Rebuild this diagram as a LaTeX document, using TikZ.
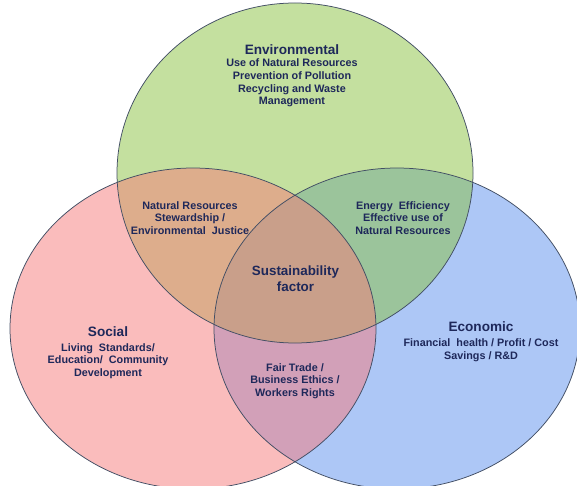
\documentclass[tikz,border=0pt]{standalone}
\usepackage{fontspec}
\setmainfont{Liberation Sans}
\definecolor{ink}{RGB}{30,40,90}
\definecolor{ringline}{RGB}{66,78,100}
\definecolor{envbase}{RGB}{139,195,65}
\definecolor{socbase}{RGB}{247,123,123}
\definecolor{ecobase}{RGB}{92,145,238}
\begin{document}
\begin{tikzpicture}[x=1pt,y=-1pt,
  disc/.style={fill opacity=0.5},
  ring/.style={draw=ringline, line width=0.75pt},
  head/.style={font=\fontsize{13.6}{15}\selectfont\bfseries, text=ink, inner sep=0pt},
  body/.style={font=\fontsize{10.8}{12.7}\selectfont\bfseries, text=ink, align=center, inner sep=0pt},
]
\useasboundingbox (0,0) rectangle (577,486);
\fill[white] (0,0) rectangle (577,486);
\begin{scope}
  \clip (0,0) rectangle (577,486);
  % circle fills, economic below, social on top
  \fill[ecobase, disc] (397,328.5) ellipse [x radius=183, y radius=160.5];
  \fill[envbase, disc] (295,173) ellipse [x radius=178, y radius=170];
  \fill[socbase, disc] (193,328.5) ellipse [x radius=183, y radius=160.5];
  % circle outlines
  \draw[ring] (397,328.5) ellipse [x radius=183, y radius=160.5];
  \draw[ring] (295,173) ellipse [x radius=178, y radius=170];
  \draw[ring] (193,328.5) ellipse [x radius=183, y radius=160.5];
\end{scope}

% Environmental
\node[head] (envtitle) at (292,50) {Environmental};
\node[body] (envbody) at (292,83) {Use of Natural Resources\\Prevention of Pollution\\Recycling and Waste\\Management};

% Social
\node[head] (soctitle) at (108,332) {Social};
\node[body] (socbody) at (108,361) {Living\ \ Standards/\\Education/\ \ Community\\Development};

% Economic
\node[head] (ecotitle) at (481,327) {Economic};
\node[body] (ecobody) at (481,350) {Financial\ \ health / Profit / Cost\\Savings / R\&D};

% Overlaps
\node[body] (envsoc) at (190,218) {Natural Resources\\Stewardship /\\Environmental\ \ Justice};
\node[body] (enveco) at (403,218) {Energy\ \ Efficiency\\Effective use of\\Natural Resources};
\node[body] (soceco) at (295,381) {Fair Trade /\\Business Ethics /\\Workers Rights};

% Centre
\node[head, align=center, font=\fontsize{13.4}{16}\selectfont\bfseries] (core) at (295.5,279) {Sustainability\\factor};
\end{tikzpicture}
\end{document}
